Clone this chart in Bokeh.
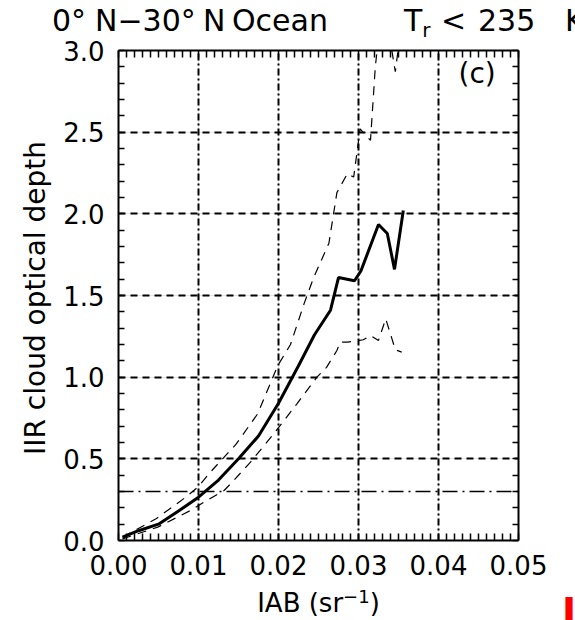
from bokeh.plotting import figure
from bokeh.layouts import column
from bokeh.models import (Range1d, LinearAxis, Label, Span, FixedTicker, Div,
                          Grid, PrintfTickFormatter)
from bokeh.embed import file_html
from bokeh.resources import INLINE

# ---------------- data ----------------
iab_mean = [0.0005, 0.0025, 0.005, 0.0075, 0.010, 0.0125, 0.015, 0.0175, 0.020,
            0.0225, 0.0245, 0.0265, 0.0275, 0.0295, 0.0303, 0.0325, 0.0336, 0.0345, 0.0356]
tau_mean = [0.02, 0.06, 0.10, 0.18, 0.265, 0.37, 0.50, 0.64, 0.84,
            1.07, 1.26, 1.41, 1.61, 1.59, 1.65, 1.935, 1.88, 1.66, 2.02]

iab_upper = [0.0005, 0.0047, 0.0084, 0.0099, 0.0117, 0.0147, 0.0174, 0.0199, 0.0215,
             0.0232, 0.0244, 0.0263, 0.0273, 0.0286, 0.0294, 0.0302, 0.0315, 0.0321,
             0.0330, 0.0340, 0.0346, 0.0352]
tau_upper = [0.02, 0.133, 0.265, 0.326, 0.43, 0.59, 0.776, 1.07, 1.2,
             1.45, 1.61, 1.82, 2.13, 2.245, 2.225, 2.52, 2.45, 2.9,
             3.3, 3.05, 2.87, 3.1]

iab_lower = [0.0005, 0.0049, 0.009, 0.0107, 0.0132, 0.0144, 0.0165, 0.0194, 0.0223,
             0.0248, 0.026, 0.0273, 0.0277, 0.0286, 0.0306, 0.0315, 0.0325, 0.0334,
             0.0339, 0.0346, 0.0354]
tau_lower = [0.01, 0.082, 0.184, 0.235, 0.306, 0.367, 0.48, 0.653, 0.837,
             1.0, 1.06, 1.163, 1.214, 1.214, 1.229, 1.255, 1.225, 1.357,
             1.28, 1.168, 1.153]

threshold = 0.3
x_ticks = [0.0, 0.01, 0.02, 0.03, 0.04, 0.05]
y_ticks = [0.0, 0.5, 1.0, 1.5, 2.0, 2.5, 3.0]
x_grid = [0.01, 0.02, 0.03, 0.04]
y_grid = [0.5, 1.0, 1.5, 2.0, 2.5]

title_words = ["0°", "N−30°", "N", "Ocean", "T", "<", "235", "K"]
title_sub = "r"
x_label = "IAB (sr"
x_label_sup = "−1"
y_label = "IIR cloud optical depth"
panel_tag = "(c)"
edge_mark = "I"

# ---------------- layout ----------------
W, H = 575, 620
L, R, T, B = 118, 57, 50, 80
FONT = "DejaVu Sans"

x_minor = [round(i * 0.001, 4) for i in range(51)]
y_minor = [round(i * 0.1, 2) for i in range(31)]

p = figure(width=W, height=H, output_backend="svg", toolbar_location=None,
           x_range=Range1d(0.0, 0.05), y_range=Range1d(0.0, 3.0),
           x_axis_location=None, y_axis_location=None,
           min_border_left=L, min_border_right=R, min_border_top=T, min_border_bottom=B)
p.outline_line_color = None
p.background_fill_color = "white"
p.border_fill_color = "white"


def make_axis(kind, labels):
    if kind == "x":
        ax = LinearAxis(ticker=FixedTicker(ticks=x_ticks, minor_ticks=x_minor),
                        formatter=PrintfTickFormatter(format="%.2f"))
        ax.minor_tick_in = 7
    else:
        ax = LinearAxis(ticker=FixedTicker(ticks=y_ticks, minor_ticks=y_minor),
                        formatter=PrintfTickFormatter(format="%.1f"))
        ax.minor_tick_in = 6
    ax.minor_tick_out = 0
    ax.major_tick_in = 0
    ax.major_tick_out = 0
    ax.axis_line_width = 2
    ax.axis_line_color = "black"
    ax.minor_tick_line_width = 1.5
    ax.minor_tick_line_color = "black"
    if labels:
        ax.major_label_text_font = FONT
        ax.major_label_text_font_size = "26px"
        ax.major_label_text_color = "black"
        ax.major_label_standoff = 14 if kind == "x" else 14
    else:
        ax.major_label_text_font_size = "0px"
        ax.major_label_text_font_style = "bold"
        ax.major_label_standoff = 0
    return ax


p.add_layout(make_axis("x", True), "below")
p.add_layout(make_axis("x", False), "above")
p.add_layout(make_axis("y", True), "left")
p.add_layout(make_axis("y", False), "right")

p.add_layout(Grid(dimension=0, ticker=FixedTicker(ticks=x_grid),
                  grid_line_color="black", grid_line_width=2, grid_line_dash="7 3 2 3"))
p.add_layout(Grid(dimension=1, ticker=FixedTicker(ticks=y_grid),
                  grid_line_color="black", grid_line_width=2, grid_line_dash="7 5"))

p.add_layout(Span(location=threshold, dimension="width", line_color="black",
                  line_width=1.5, line_dash="15 5 2 5"))

p.line(iab_upper, tau_upper, line_color="black", line_width=1.2, line_dash="9 7")
p.line(iab_lower, tau_lower, line_color="black", line_width=1.2, line_dash="9 7")
p.line(iab_mean, tau_mean, line_color="black", line_width=3)

# panel tag inside the frame
p.add_layout(Label(x=0.0425, y=2.86, text=panel_tag, text_font=FONT,
                   text_font_size="28px", text_align="left", text_baseline="alphabetic",
                   text_color="black"))

# ---------------- texts outside the frame (HTML overlays) ----------------
word_widths = [43, 108, 29, 172, 37, 37, 87, 40]
spans = []
for word, w in zip(title_words, word_widths):
    inner = word
    if word == "T":
        inner = ('T<sub style="font-size:20px;vertical-align:-6px;line-height:0;">'
                 + title_sub + '</sub>')
    spans.append(f'<span style="display:inline-block;width:{w}px;">{inner}</span>')
title_html = ('<div style="white-space:nowrap;padding-left:52px;">'
              + "".join(spans) + '</div>')

base_style = {"font-family": FONT, "color": "black", "white-space": "nowrap"}

title_div = Div(text=title_html, width=W, height=40, margin=(3 - H, 0, 0, 0),
                styles=dict(base_style, **{"font-size": "30px", "line-height": "36px",
                                           "overflow": "hidden"}))
# top-left of the unrotated box at (19, 543); rotated -90 deg about that corner
ylab_div = Div(text=y_label, width=490, height=34, margin=(543 - 43, 0, 0, 19),
               styles=dict(base_style, **{"font-size": "28px", "line-height": "34px",
                                          "text-align": "center",
                                          "transform": "rotate(-90deg)",
                                          "transform-origin": "0 0"}))
xlab_div = Div(text=(x_label + '<sup style="font-size:18px;vertical-align:9px;line-height:0;">'
                     + x_label_sup + '</sup>)'),
               width=401, height=32, margin=(588 - 577, 0, 0, L),
               styles=dict(base_style, **{"font-size": "26px", "line-height": "30px",
                                          "text-align": "center"}))
mark_div = Div(text=edge_mark, width=20, height=31, margin=(589 - 620, 0, 0, 562),
               styles={"color": "red", "font-size": "38px", "font-weight": "bold",
                       "font-family": FONT, "line-height": "44px"})

page = column(p, title_div, ylab_div, xlab_div, mark_div, spacing=0)
open("out.html", "w").write(file_html(page, INLINE))
